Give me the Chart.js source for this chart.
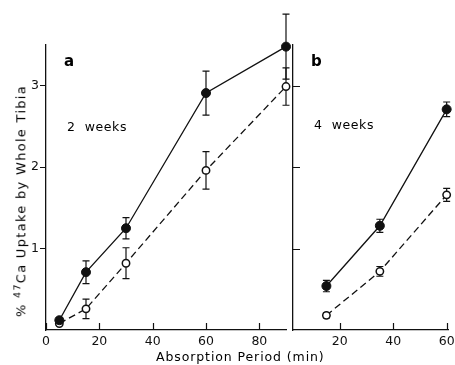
<!DOCTYPE html>
<html>
<head>
<meta charset="utf-8">
<script src="https://cdn.jsdelivr.net/npm/chart.js@4/dist/chart.umd.min.js"></script>
<style>
  html, body { margin: 0; padding: 0; background: #fff; overflow: hidden; }
  #wrap { position: relative; width: 455px; height: 365px; overflow: hidden; }
  canvas { position: absolute; top: 0; }
  #chart-a { left: 0; }
  #chart-b { left: 286px; }
  .lbl { position: absolute; font-family: "DejaVu Sans", sans-serif; color: #000; white-space: nowrap; }
  .panel { font-weight: bold; font-size: 15px; }
  .weeks { font-size: 12.5px; letter-spacing: 0.6px; }
  #xtitle { left: 156px; top: 349px; font-size: 12.5px; letter-spacing: 0.9px; }
  #ytitle { left: 20px; top: 201px; font-size: 13px; letter-spacing: 1.3px;
            transform: translate(-50%, -50%) rotate(-90deg); }
  #ytitle sup { font-size: 9.5px; }
</style>
</head>
<body>
<div id="wrap">
  <canvas id="chart-a" width="300" height="365"></canvas>
  <canvas id="chart-b" width="190" height="365"></canvas>
  <div class="lbl panel" style="left:64px; top:52px;">a</div>
  <div class="lbl weeks" style="left:67px; top:119px;">2&nbsp;&nbsp;weeks</div>
  <div class="lbl panel" style="left:311px; top:52px;">b</div>
  <div class="lbl weeks" style="left:314px; top:117px;">4&nbsp;&nbsp;weeks</div>
  <div class="lbl" id="xtitle">Absorption Period (min)</div>
  <div class="lbl" id="ytitle">% <sup>47</sup>Ca Uptake by Whole Tibia</div>
</div>
<script>
// Panel a: 2 weeks
const timesA = [5, 15, 30, 60, 90];
const filledA = [0.12, 0.71, 1.25, 2.91, 3.48];
const filledErrA = [0.03, 0.14, 0.13, 0.27, 0.40];
const openA = [0.08, 0.26, 0.82, 1.96, 2.99];
const openErrA = [0.02, 0.12, 0.19, 0.23, 0.23];

// Panel b: 4 weeks
const timesB = [15, 35, 60];
const filledB = [0.54, 1.28, 2.71];
const filledErrB = [0.07, 0.08, 0.09];
const openB = [0.18, 0.72, 1.66];
const openErrB = [0.03, 0.06, 0.08];

// Tick labels
const xTicksA = [0, 20, 40, 60, 80];
const xTicksB = [20, 40, 60];
const yTicks = [1, 2, 3];

const INK = '#111';
const tickFont = { family: 'DejaVu Sans', size: 12.5 };

function points(xs, ys) {
    return xs.map((x, i) => ({ x: x, y: ys[i] }));
}

// error bars drawn before the markers so the open circles sit on top
const errorBars = {
    id: 'errorBars',
    beforeDatasetsDraw(chart) {
        const { ctx, scales: { x, y } } = chart;
        ctx.save();
        ctx.strokeStyle = INK;
        ctx.lineWidth = 1.2;
        chart.data.datasets.forEach(ds => {
            ds.data.forEach((p, i) => {
                const e = ds.errors[i];
                const px = x.getPixelForValue(p.x);
                const top = y.getPixelForValue(p.y + e);
                const bot = y.getPixelForValue(p.y - e);
                ctx.beginPath();
                ctx.moveTo(px, top);
                ctx.lineTo(px, bot);
                ctx.moveTo(px - 3.5, top);
                ctx.lineTo(px + 3.5, top);
                ctx.moveTo(px - 3.5, bot);
                ctx.lineTo(px + 3.5, bot);
                ctx.stroke();
            });
        });
        ctx.restore();
    }
};

// tick marks pointing into the plot
const innerTicks = {
    id: 'innerTicks',
    afterDraw(chart, args, opts) {
        const { ctx, chartArea, scales: { x, y } } = chart;
        ctx.save();
        ctx.strokeStyle = INK;
        ctx.lineWidth = 1.2;
        ctx.beginPath();
        (opts.xTicks || []).forEach(v => {
            const px = Math.round(x.getPixelForValue(v)) + 0.5;
            ctx.moveTo(px, chartArea.bottom);
            ctx.lineTo(px, chartArea.bottom - 7);
        });
        (opts.yTicks || []).forEach(v => {
            const py = Math.round(y.getPixelForValue(v)) + 0.5;
            ctx.moveTo(chartArea.left, py);
            ctx.lineTo(chartArea.left + 7, py);
        });
        ctx.stroke();
        ctx.restore();
    }
};

function makeDatasets(times, filled, filledErr, open, openErr) {
    return [
        {
            data: points(times, filled),
            errors: filledErr,
            borderColor: INK,
            backgroundColor: INK,
            borderWidth: 1.3,
            pointRadius: 4.5,
            pointBackgroundColor: INK,
            pointBorderColor: INK,
            pointBorderWidth: 1,
            clip: false
        },
        {
            data: points(times, open),
            errors: openErr,
            borderColor: INK,
            borderWidth: 1.3,
            borderDash: [7, 4],
            pointRadius: 3.7,
            pointBackgroundColor: '#fff',
            pointBorderColor: INK,
            pointBorderWidth: 1.5,
            clip: false
        }
    ];
}

const chartA = new Chart(document.getElementById('chart-a'), {
    type: 'line',
    data: { datasets: makeDatasets(timesA, filledA, filledErrA, openA, openErrA) },
    options: {
        responsive: false,
        animation: false,
        events: [],
        layout: { padding: { top: 45, right: 14, left: 0, bottom: 0 } },
        plugins: {
            legend: { display: false },
            tooltip: { enabled: false },
            innerTicks: { xTicks: xTicksA, yTicks: [] }
        },
        scales: {
            x: {
                type: 'linear',
                min: 0,
                max: 90,
                afterBuildTicks: s => { s.ticks = xTicksA.map(v => ({ value: v })); },
                afterFit: s => { s.height = 35; },
                grid: { drawOnChartArea: false, drawTicks: false },
                border: { color: INK, width: 1.3 },
                ticks: { color: INK, font: tickFont, padding: 4, maxRotation: 0, autoSkip: false }
            },
            y: {
                min: 0,
                max: 3.5,
                afterBuildTicks: s => { s.ticks = yTicks.map(v => ({ value: v })); },
                afterFit: s => { s.width = 46; },
                grid: { drawOnChartArea: false, drawTicks: true, tickLength: 6, color: INK },
                border: { color: INK, width: 1.3 },
                ticks: { color: INK, font: tickFont, padding: 1 }
            }
        }
    },
    plugins: [errorBars, innerTicks]
});

const chartB = new Chart(document.getElementById('chart-b'), {
    type: 'line',
    data: { datasets: makeDatasets(timesB, filledB, filledErrB, openB, openErrB) },
    options: {
        responsive: false,
        animation: false,
        events: [],
        layout: { padding: { top: 45, right: 28, left: 0, bottom: 0 } },
        plugins: {
            legend: { display: false },
            tooltip: { enabled: false },
            innerTicks: { xTicks: xTicksB, yTicks: yTicks }
        },
        scales: {
            x: {
                type: 'linear',
                min: 2.5,
                max: 60.5,
                afterBuildTicks: s => { s.ticks = xTicksB.map(v => ({ value: v })); },
                afterFit: s => { s.height = 35; },
                grid: { drawOnChartArea: false, drawTicks: false },
                border: { color: INK, width: 1.3 },
                ticks: { color: INK, font: tickFont, padding: 4, maxRotation: 0, autoSkip: false }
            },
            y: {
                min: 0,
                max: 3.5,
                afterBuildTicks: s => { s.ticks = yTicks.map(v => ({ value: v })); },
                afterFit: s => { s.width = 7; },
                grid: { drawOnChartArea: false, drawTicks: false },
                border: { color: INK, width: 1.3 },
                ticks: { display: false }
            }
        }
    },
    plugins: [errorBars, innerTicks]
});
</script>
</body>
</html>
